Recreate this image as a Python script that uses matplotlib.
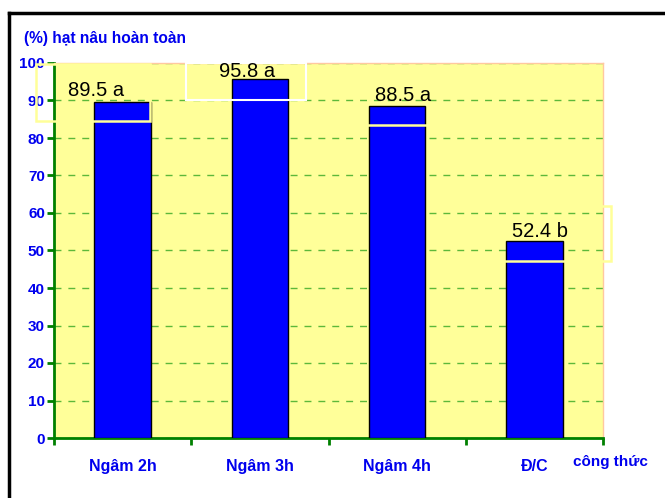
import matplotlib
matplotlib.use("Agg")
import matplotlib.pyplot as plt
from matplotlib.patches import Rectangle
from matplotlib.lines import Line2D

categories = ["Ngâm 2h", "Ngâm 3h", "Ngâm 4h", "Đ/C"]
values = [89.5, 95.8, 88.5, 52.4]
letters = ["a", "a", "a", "b"]
yticks = [0, 10, 20, 30, 40, 50, 60, 70, 80, 90, 100]
# label shift from bar top / centre, as in the original
label_dx = [-0.19, -0.09, 0.04, 0.04]
label_dy = [1.6, 0.5, 1.3, 1.2]

plt.rcParams['font.family'] = ['Liberation Sans', 'DejaVu Sans']
blue_txt = "#0000EE"
green = "#008000"
bg = "#FFFF99"

fig = plt.figure(figsize=(6.65, 4.98), dpi=100)
fig.patch.set_facecolor("white")
ax = fig.add_axes([54/665, 60/498, 549/665, 375/498])
ax.set_facecolor(bg)

xs = list(range(len(categories)))
ax.bar(xs, values, width=0.41, color="#0000FF", edgecolor="black", linewidth=1, zorder=3)

for x, v, l, dx, dy in zip(xs, values, letters, label_dx, label_dy):
    ax.text(x + dx, v + dy, f"{v} {l}", ha="center", va="baseline", fontsize=14.5,
            color="black", zorder=5)

ax.set_xlim(-0.5, len(categories) - 0.5)
ax.set_ylim(0, 100)
ax.set_yticks(yticks)
ax.set_yticklabels([str(t) for t in yticks], fontsize=11, fontweight="bold", color=blue_txt)
ax.yaxis.grid(True, color="#5DB83A", linestyle=(0, (5, 5)), linewidth=1)
ax.set_axisbelow(True)

ax.set_xticks(xs)
ax.set_xticklabels(categories, fontsize=11.5, fontweight="bold", color=blue_txt)
ax.set_xticks([i - 0.5 for i in range(len(categories) + 1)], minor=True)
ax.tick_params(axis="x", which="major", length=0, pad=15)
ax.tick_params(axis="x", which="minor", length=5, width=2, color=green, direction="out")
ax.tick_params(axis="y", length=5, width=2, color=green, direction="out", pad=1.5)

ax.spines["left"].set_color(green)
ax.spines["left"].set_linewidth(2)
ax.spines["bottom"].set_color(green)
ax.spines["bottom"].set_linewidth(2)
ax.spines["top"].set_color("#FFC8A0")
ax.spines["right"].set_color("#FFC8A0")
ax.spines["top"].set_linewidth(1)
ax.spines["right"].set_linewidth(1)

# leftover label frames from the original
ax.add_patch(Rectangle((-0.631, 84.4), 0.83, 15.3, fill=False, edgecolor=bg,
                       linewidth=1.8, clip_on=False, zorder=4))
ax.add_patch(Rectangle((0.462, 90.1), 0.874, 9.9, fill=False, edgecolor="white",
                       linewidth=1.5, clip_on=False, zorder=4))
ax.add_patch(Rectangle((1.6, 83.4), 0.8, 13.5, fill=False, edgecolor=bg,
                       linewidth=1.8, clip_on=False, zorder=4))
ax.add_patch(Rectangle((2.62, 47.2), 0.938, 14.7, fill=False, edgecolor=bg,
                       linewidth=1.8, clip_on=False, zorder=4))

fig.text(24/665, 1 - 38/498, "(%) hạt nâu hoàn toàn", fontsize=11.2, fontweight="bold",
         color=blue_txt, ha="left", va="center")
fig.text(573/665, 1 - 462/498, "công thức", fontsize=11, fontweight="bold",
         color=blue_txt, ha="left", va="center")

# outer frame
fig.add_artist(Line2D([8.5/665, 8.5/665], [0, 1 - 13/498], transform=fig.transFigure,
                      color="black", linewidth=2.5))
fig.add_artist(Line2D([8.5/665, 1], [1 - 13/498, 1 - 13/498], transform=fig.transFigure,
                      color="black", linewidth=2.5))

fig.savefig("out.png", dpi=100)
